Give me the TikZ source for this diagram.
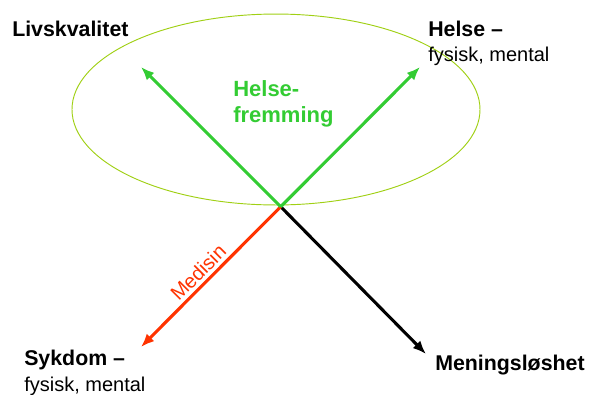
\documentclass[tikz,border=0pt]{standalone}
\usepackage{fontspec}
\setmainfont{Liberation Sans}
\usetikzlibrary{arrows.meta}
\definecolor{arrgreen}{RGB}{51,204,51}
\definecolor{ellgreen}{RGB}{160,208,20}
\definecolor{arrred}{RGB}{255,51,0}
\tikzset{
  conn/.style={line width=2.3pt, -{Latex[length=10pt,width=8pt]}},
  boldlbl/.style={anchor=base west, inner sep=0pt, font=\fontsize{16}{19}\selectfont\bfseries},
  reglbl/.style={anchor=base west, inner sep=0pt, font=\fontsize{15}{18}\selectfont},
  greenlbl/.style={anchor=base west, inner sep=0pt, text=arrgreen, font=\fontsize{16.5}{20}\selectfont\bfseries},
}
\begin{document}
\begin{tikzpicture}[x=0.75pt, y=-0.75pt]
\useasboundingbox (0,0) rectangle (593,394);
\fill[white] (0,0) rectangle (593,394);
% ellipse
\draw[ellgreen, line width=0.7pt] (276,109.5) ellipse [x radius=153pt, y radius=71.6pt];
% coordinates
\coordinate (o) at (280.7,206.7);
\coordinate (lq) at (141,67);
\coordinate (hl) at (420,67);
\coordinate (sy) at (141,347);
\coordinate (me) at (426,354);
% connectors
\draw[conn, black] (o) -- (me);
\draw[conn, arrred] (o) -- node[pos=0.53, sloped, above=2.5pt, inner sep=0pt, text=arrred, font=\fontsize{15}{18}\selectfont] (med) {Medisin} (sy);
\draw[conn, arrgreen] (o) -- (lq);
\draw[conn, arrgreen] (o) -- (hl);
% labels
\node[boldlbl] (livs) at (12,36) {Livskvalitet};
\node[boldlbl] (helse) at (428,36) {Helse –};
\node[reglbl] (helse2) at (428,61) {fysisk, mental};
\node[boldlbl] (syk) at (24,365) {Sykdom –};
\node[reglbl] (syk2) at (24,391) {fysisk, mental};
\node[boldlbl] (men) at (435,370) {Meningsløshet};
\node[greenlbl] (hf1) at (233,96) {Helse-};
\node[greenlbl] (hf2) at (233,122) {fremming};
\end{tikzpicture}
\end{document}
